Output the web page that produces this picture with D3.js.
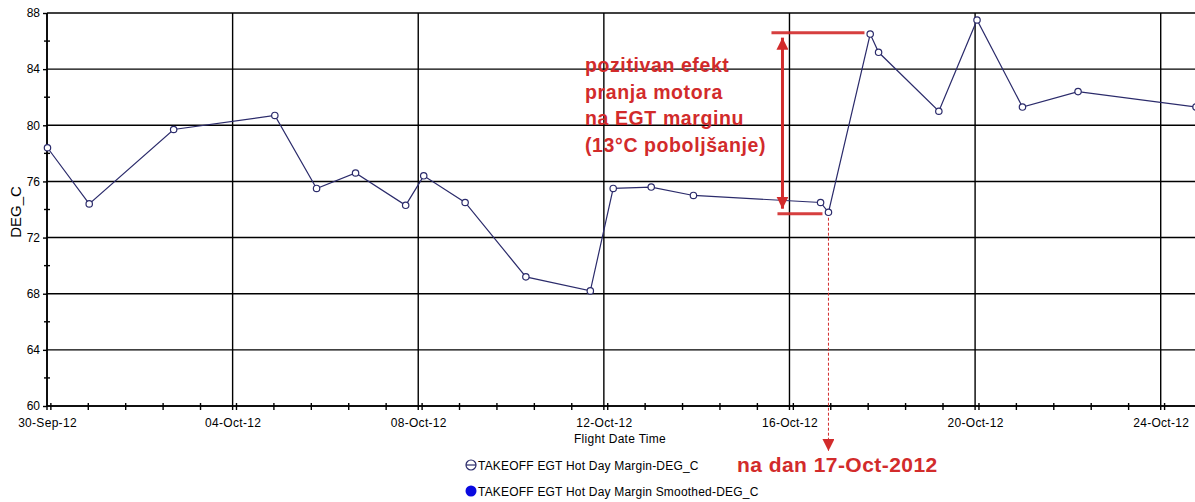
<!DOCTYPE html>
<html>
<head>
<meta charset="utf-8">
<script src="https://cdn.jsdelivr.net/npm/d3@7"></script>
<style>
  body { margin: 0; background: #fff; }
  text { font-family: "Liberation Sans", Arial, sans-serif; }
</style>
</head>
<body>
<div id="chart"></div>
<script>

// flight records (local time) and EGT hot day margin
var flightTimes = ["2012-09-30T00:15", "2012-09-30T21:50", "2012-10-02T17:30", "2012-10-04T21:50",
    "2012-10-05T19:25", "2012-10-06T15:35", "2012-10-07T17:30", "2012-10-08T02:50",
    "2012-10-09T00:15", "2012-10-10T07:40", "2012-10-11T17:00", "2012-10-12T04:50",
    "2012-10-13T00:30", "2012-10-13T22:20", "2012-10-16T16:05", "2012-10-16T20:10",
    "2012-10-17T17:45", "2012-10-17T22:05", "2012-10-19T05:15", "2012-10-20T01:00",
    "2012-10-21T00:30", "2012-10-22T05:15", "2012-10-24T18:15"];
var egtMargin = [78.4, 74.4, 79.7, 80.7, 75.5, 76.6, 74.3, 76.4, 74.5, 69.2, 68.2, 75.5,
    75.6, 75.0, 74.5, 73.8, 86.5, 85.2, 81.0, 87.5, 81.3, 82.4, 81.3];

var yTicks = [60, 64, 68, 72, 76, 80, 84, 88];
var yMinorTicks = [62, 66, 70, 74, 78, 82, 86];
var xTickDates = ["2012-09-30", "2012-10-04", "2012-10-08", "2012-10-12", "2012-10-16", "2012-10-20", "2012-10-24"];

var legendLabels = ["TAKEOFF EGT Hot Day Margin-DEG_C", "TAKEOFF EGT Hot Day Margin Smoothed-DEG_C"];

// annotation: wash effect between these two levels
var washBefore = 73.7, washAfter = 86.6;
var washDate = "2012-10-16T20:10";
var noteLines = ["pozitivan efekt", "pranja motora", "na EGT marginu", "(13\u00B0C poboljšanje)"];
var dateNote = "na dan 17-Oct-2012";

var width = 1195, height = 502;
var plotLeft = 47, plotTop = 13, plotBottom = 406, plotRight = 1196;
var lineColor = "#2b2b6b";
var red = "#d22b2b";

var parseTime = d3.timeParse("%Y-%m-%dT%H:%M");
var parseDay = d3.timeParse("%Y-%m-%d");
var data = flightTimes.map((t, i) => ({date: parseTime(t), value: egtMargin[i]}));

/* Scales */
var xScale = d3.scaleTime()
    .domain([parseDay("2012-09-30"), parseTime("2012-10-24T18:15")])
    .range([plotLeft, plotRight]);

var yScale = d3.scaleLinear()
    .domain([60, 88])
    .range([plotBottom, plotTop]);

var svg = d3.select("#chart").append("svg")
    .attr("width", width)
    .attr("height", height);

var majors = xTickDates.map(parseDay);

// minor ticks: five per 4-day step, starting 2h after the major
var minors = [];
majors.forEach(d => {
    d3.range(5).forEach(k => {
        var t = d3.timeMinute.offset(d, Math.round(120 + k * 19.35 * 60));
        if (t <= xScale.domain()[1]) minors.push(t);
    });
});

/* Grid */
var grid = svg.append("g").attr("stroke", "#000").attr("stroke-width", 1.4);
grid.selectAll(".hgrid").data(yTicks).enter()
    .append("line")
    .attr("x1", plotLeft).attr("x2", plotRight)
    .attr("y1", d => yScale(d)).attr("y2", d => yScale(d));
grid.selectAll(".vgrid").data(majors).enter()
    .append("line")
    .attr("x1", d => xScale(d)).attr("x2", d => xScale(d))
    .attr("y1", plotTop).attr("y2", plotBottom + 4);

/* Axes */
var yAxis = d3.axisLeft(yScale)
    .tickValues(yTicks)
    .tickSize(4)
    .tickPadding(3);
var yAxisG = svg.append("g")
    .attr("transform", `translate(${plotLeft},0)`)
    .call(yAxis);
yAxisG.select(".domain").remove();
yAxisG.selectAll("line").attr("stroke-width", 1.4);
yAxisG.selectAll("text")
    .style("font-size", "12px")
    .attr("fill", "#000");

svg.append("g").selectAll("line").data(yMinorTicks).enter()
    .append("line")
    .attr("x1", plotLeft - 3).attr("x2", plotLeft + 3)
    .attr("y1", d => yScale(d)).attr("y2", d => yScale(d))
    .attr("stroke", "#000").attr("stroke-width", 1.4);

svg.append("line")
    .attr("x1", plotLeft).attr("x2", plotLeft)
    .attr("y1", plotTop).attr("y2", plotBottom)
    .attr("stroke", "#000").attr("stroke-width", 1.6);

var xAxis = d3.axisBottom(xScale)
    .tickValues(majors)
    .tickFormat(d3.timeFormat("%d-%b-%y"))
    .tickSize(0)
    .tickPadding(12);
var xAxisG = svg.append("g")
    .attr("transform", `translate(0,${plotBottom})`)
    .call(xAxis);
xAxisG.select(".domain").remove();
xAxisG.selectAll("text")
    .style("font-size", "12px")
    .style("letter-spacing", "0.3px")
    .attr("fill", "#000");

svg.append("g").selectAll("line").data(minors).enter()
    .append("line")
    .attr("x1", d => xScale(d)).attr("x2", d => xScale(d))
    .attr("y1", plotBottom - 3).attr("y2", plotBottom + 4)
    .attr("stroke", "#000").attr("stroke-width", 1.4);

svg.append("line")
    .attr("x1", plotLeft).attr("x2", plotRight)
    .attr("y1", plotBottom).attr("y2", plotBottom)
    .attr("stroke", "#000").attr("stroke-width", 1.6);

// axis titles
svg.append("text")
    .attr("x", 620).attr("y", 443)
    .attr("text-anchor", "middle")
    .style("font-size", "12px")
    .style("letter-spacing", "0.3px")
    .text("Flight Date Time");

svg.append("text")
    .attr("transform", `translate(21,212) rotate(-90)`)
    .attr("text-anchor", "middle")
    .style("font-size", "15px")
    .text("DEG_C");

/* Line + markers */
var line = d3.line()
    .x(d => xScale(d.date))
    .y(d => yScale(d.value));

svg.append("path")
    .datum(data)
    .attr("d", line)
    .attr("fill", "none")
    .attr("stroke", lineColor)
    .attr("stroke-width", 1.2);

svg.append("g").selectAll("circle").data(data).enter()
    .append("circle")
    .attr("cx", d => xScale(d.date))
    .attr("cy", d => yScale(d.value))
    .attr("r", 3.2)
    .attr("fill", "#fff")
    .attr("stroke", lineColor)
    .attr("stroke-width", 1.2);

/* Annotation */
var defs = svg.append("defs");
defs.append("marker")
    .attr("id", "head")
    .attr("viewBox", "0 0 10 10")
    .attr("refX", 10).attr("refY", 5)
    .attr("markerWidth", 12).attr("markerHeight", 12)
    .attr("markerUnits", "userSpaceOnUse")
    .attr("orient", "auto-start-reverse")
    .append("path")
    .attr("d", "M0,0 L10,5 L0,10 Z")
    .attr("fill", red);

var washX = xScale(parseTime(washDate));
var arrowX = washX - 46;

svg.append("line")
    .attr("x1", arrowX - 11).attr("x2", washX + 36)
    .attr("y1", yScale(washAfter)).attr("y2", yScale(washAfter))
    .attr("stroke", red).attr("stroke-width", 3).attr("opacity", 0.9);
svg.append("line")
    .attr("x1", arrowX - 5).attr("x2", washX - 6)
    .attr("y1", yScale(washBefore)).attr("y2", yScale(washBefore))
    .attr("stroke", red).attr("stroke-width", 3).attr("opacity", 0.9);

svg.append("line")
    .attr("x1", arrowX).attr("x2", arrowX)
    .attr("y1", yScale(washAfter) + 5).attr("y2", yScale(washBefore) - 5)
    .attr("stroke", red).attr("stroke-width", 3)
    .attr("marker-start", "url(#head)")
    .attr("marker-end", "url(#head)");

svg.append("line")
    .attr("x1", washX).attr("x2", washX)
    .attr("y1", yScale(washBefore) + 4).attr("y2", 451)
    .attr("stroke", red).attr("stroke-width", 1)
    .attr("stroke-dasharray", "3,2")
    .attr("marker-end", "url(#head)");

svg.append("g").selectAll("text").data(noteLines).enter()
    .append("text")
    .attr("x", 585)
    .attr("y", (d, i) => 72 + i * 26.5)
    .attr("fill", red)
    .style("font-size", "19.5px")
    .style("font-weight", "bold")
    .style("letter-spacing", "0.6px")
    .text(d => d);

svg.append("text")
    .attr("x", 737).attr("y", 472)
    .attr("fill", red)
    .style("font-size", "21px")
    .style("font-weight", "bold")
    .style("letter-spacing", "0.45px")
    .text(dateNote);

/* Legend */
var legend = svg.append("g");
var legendY = [465, 491];
legend.append("circle")
    .attr("cx", 471).attr("cy", legendY[0]).attr("r", 5)
    .attr("fill", "#fff").attr("stroke", lineColor).attr("stroke-width", 1.2);
legend.append("line")
    .attr("x1", 466).attr("x2", 476)
    .attr("y1", legendY[0]).attr("y2", legendY[0])
    .attr("stroke", lineColor).attr("stroke-width", 1.2);
legend.append("circle")
    .attr("cx", 471).attr("cy", legendY[1]).attr("r", 5.5)
    .attr("fill", "#0a0ae0");
legend.selectAll("text").data(legendLabels).enter()
    .append("text")
    .attr("x", 478)
    .attr("y", (d, i) => legendY[i] + 4.5)
    .style("font-size", "12px")
    .style("letter-spacing", "0.2px")
    .text(d => d);

</script>
</body>
</html>
